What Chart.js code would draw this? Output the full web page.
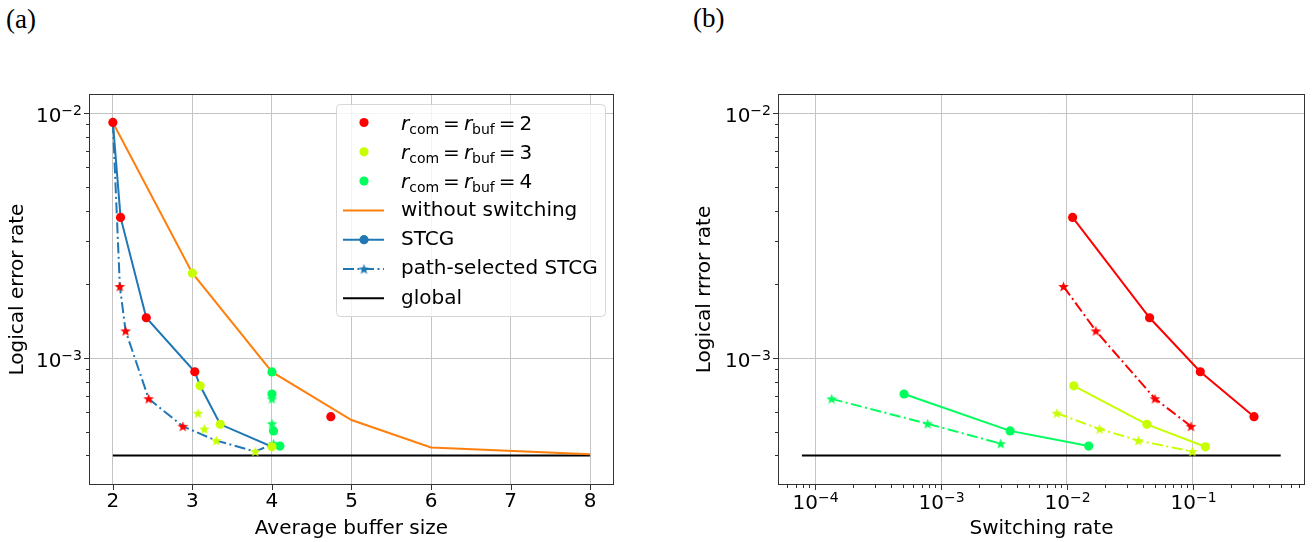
<!DOCTYPE html>
<html>
<head>
<meta charset="utf-8">
<script src="https://cdn.jsdelivr.net/npm/chart.js@4.4.1/dist/chart.umd.min.js"></script>
<style>
  body { margin: 0; background: #fff; width: 1315px; height: 542px; overflow: hidden; position: relative; }
  .panel { position: absolute; top: 0; height: 542px; }
  #wrapA { left: 0; width: 657px; }
  #wrapB { left: 657px; width: 658px; }
  .tag { position: absolute; font-family: "Liberation Serif", serif; font-size: 27px; line-height: 1; }
</style>
</head>
<body>
<div class="tag" style="left:6px; top:6px">(a)</div>
<div class="tag" style="left:693px; top:5px">(b)</div>
<div class="panel" id="wrapA"><canvas id="chartA"></canvas></div>
<div class="panel" id="wrapB"><canvas id="chartB"></canvas></div>
<script>
// ---- data ----
// (a) average buffer size vs logical error rate
var bufR2 = [2.0, 2.097, 2.42, 3.03, 4.74];
var errR2 = [9.16e-3, 3.75e-3, 1.46e-3, 8.79e-4, 5.76e-4];
var bufR3 = [3.0, 3.097, 3.35, 4.0];
var errR3 = [2.22e-3, 7.7e-4, 5.36e-4, 4.34e-4];
var bufR4 = [4.0, 4.0, 4.02, 4.10];
var errR4 = [8.77e-4, 7.13e-4, 5.04e-4, 4.37e-4];

var bufR2Path = [2.088, 2.16, 2.45, 2.88];
var errR2Path = [1.96e-3, 1.29e-3, 6.82e-4, 5.26e-4];
var bufR3Path = [3.07, 3.15, 3.30, 3.79];
var errR3Path = [5.95e-4, 5.13e-4, 4.60e-4, 4.15e-4];
var bufR4Path = [4.0, 4.0, 4.02];
var errR4Path = [6.81e-4, 5.39e-4, 4.47e-4];

var bufNoSwitch = [2, 3, 4, 5, 6, 8];
var errNoSwitch = [9.16e-3, 2.22e-3, 8.77e-4, 5.58e-4, 4.31e-4, 4.05e-4];
var bufStcg = [2.0, 2.097, 2.42, 3.03, 3.097, 3.35, 4.0, 4.10];
var errStcg = [9.16e-3, 3.75e-3, 1.46e-3, 8.79e-4, 7.7e-4, 5.36e-4, 4.34e-4, 4.37e-4];
var bufPathStcg = [2.0, 2.088, 2.16, 2.45, 2.88, 3.30, 3.79, 4.02];
var errPathStcg = [9.16e-3, 1.96e-3, 1.29e-3, 6.82e-4, 5.26e-4, 4.60e-4, 4.15e-4, 4.47e-4];
var bufGlobal = [2, 8];
var errGlobal = [4.0e-4, 4.0e-4];

// (b) switching rate vs logical error rate
var swR2 = [0.0111, 0.0454, 0.1148, 0.307];
var swErrR2 = [3.75e-3, 1.46e-3, 8.79e-4, 5.76e-4];
var swR2Path = [0.0094, 0.0170, 0.0501, 0.0969];
var swErrR2Path = [1.96e-3, 1.29e-3, 6.82e-4, 5.26e-4];
var swR3 = [0.01135, 0.0432, 0.126];
var swErrR3 = [7.7e-4, 5.36e-4, 4.34e-4];
var swR3Path = [0.00832, 0.0182, 0.0369, 0.0993];
var swErrR3Path = [5.95e-4, 5.13e-4, 4.60e-4, 4.15e-4];
var swR4 = [5.08e-4, 3.54e-3, 0.0149];
var swErrR4 = [7.13e-4, 5.04e-4, 4.37e-4];
var swR4Path = [1.35e-4, 7.82e-4, 2.98e-3];
var swErrR4Path = [6.81e-4, 5.39e-4, 4.47e-4];
var swGlobal = [7.84e-5, 0.5];
var swErrGlobal = [4.0e-4, 4.0e-4];

var bufferTicks = [2, 3, 4, 5, 6, 7, 8];
var rLevels = [2, 3, 4];
var legendLabels = ['without switching', 'STCG', 'path-selected STCG', 'global'];

// ---- styling ----
var FONT = '"DejaVu Sans", sans-serif';
var FS = 20;
var RED = '#ff0000', YEL = '#c8ff00', GRN = '#00ff5c';
var BLUE = '#1f77b4', ORANGE = '#ff7f0e';
var GRID = '#c4c4c4';
var DASHDOT = [11, 3.5, 2, 3.5];

function pts(xs, ys) {
  return xs.map(function (x, i) { return { x: x, y: ys[i] }; });
}

function starImage(color) {
  var R = 5.6, r = R * 0.42, size = 13;
  var c = document.createElement('canvas');
  c.width = size; c.height = size;
  var g = c.getContext('2d');
  g.translate(size / 2, size / 2 + 0.5);
  g.beginPath();
  for (var i = 0; i < 10; i++) {
    var rad = i % 2 ? r : R;
    var a = -Math.PI / 2 + i * Math.PI / 5;
    g.lineTo(rad * Math.cos(a), rad * Math.sin(a));
  }
  g.closePath();
  g.fillStyle = color;
  g.fill();
  return c;
}
var starRed = starImage(RED), starYel = starImage(YEL), starGrn = starImage(GRN), starBlue = starImage(BLUE);

function logTicks(lo, hi) {
  var out = [];
  for (var e = Math.floor(Math.log10(lo)); e <= Math.ceil(Math.log10(hi)); e++) {
    for (var k = 1; k <= 9; k++) {
      var v = k * Math.pow(10, e);
      if (v >= lo && v <= hi) out.push({ value: v, major: k === 1 });
    }
  }
  return out;
}

function gridColor(ctx) {
  return ctx.tick && ctx.tick.major ? GRID : 'rgba(0,0,0,0)';
}

// "10" with a raised exponent, like matplotlib's mathtext tick labels
function drawPow(ctx, v, x, yMid, align) {
  var e = Math.round(Math.log10(v));
  var base = '10', ex = (e < 0 ? '\u2212' : '') + Math.abs(e);
  ctx.font = FS + 'px ' + FONT;
  var w1 = ctx.measureText(base).width;
  ctx.font = '14px ' + FONT;
  var w2 = ctx.measureText(ex).width;
  var left = align === 'right' ? x - w1 - w2 : x - (w1 + w2) / 2;
  var baseline = yMid + 7.3;
  ctx.textBaseline = 'alphabetic';
  ctx.textAlign = 'left';
  ctx.fillStyle = '#000';
  ctx.font = FS + 'px ' + FONT;
  ctx.fillText(base, left, baseline);
  ctx.font = '14px ' + FONT;
  ctx.fillText(ex, left + w1, baseline - 7);
}

// spines, outward tick marks and log tick labels
var frame = {
  id: 'frame',
  afterDatasetsDraw: function (chart) {
    var a = chart.chartArea, ctx = chart.ctx;
    ctx.save();
    ctx.strokeStyle = '#333';
    ctx.lineWidth = 1;
    ctx.strokeRect(Math.round(a.left) + 0.5, Math.round(a.top) + 0.5,
      Math.round(a.right - a.left) - 1, Math.round(a.bottom - a.top) - 1);
    ['x', 'y'].forEach(function (id) {
      var s = chart.scales[id];
      s.ticks.forEach(function (t) {
        var len = t.major ? 5 : 3;
        var p = Math.round(s.getPixelForValue(t.value)) + 0.5;
        ctx.beginPath();
        if (id === 'x') { ctx.moveTo(p, a.bottom); ctx.lineTo(p, a.bottom + len); }
        else { ctx.moveTo(a.left, p); ctx.lineTo(a.left - len, p); }
        ctx.stroke();
        if (s.type === 'logarithmic' && t.major) {
          if (id === 'x') drawPow(ctx, t.value, p, a.bottom + 17, 'center');
          else drawPow(ctx, t.value, a.left - 7, p + 1, 'right');
        }
      });
    });
    ctx.restore();
  }
};

function drawRLabel(ctx, x, y, n) {
  var big = FS + 'px ' + FONT, it = 'italic ' + FS + 'px ' + FONT, small = '14px ' + FONT;
  var parts = [['r', it, 0, 0], ['com', small, 4, 4], ['=', big, 0, 4], ['r', it, 0, 0], ['buf', small, 4, 4], ['=', big, 0, 4], [String(n), big, 0, 0]];
  ctx.textBaseline = 'alphabetic';
  ctx.textAlign = 'left';
  var base = y + 7;
  parts.forEach(function (p) {
    ctx.font = p[1];
    ctx.fillText(p[0], x, base + p[2]);
    x += ctx.measureText(p[0]).width + p[3];
  });
}

var legendBox = {
  id: 'legendBox',
  afterDraw: function (chart) {
    var ctx = chart.ctx;
    var x0 = 336, y0 = 104, w = 269, h = 212;
    ctx.save();
    ctx.beginPath();
    ctx.roundRect(x0 + 0.5, y0 + 0.5, w, h, 4);
    ctx.fillStyle = 'rgba(255,255,255,0.8)';
    ctx.fill();
    ctx.strokeStyle = '#d6d6d6';
    ctx.lineWidth = 1;
    ctx.stroke();
    var rowY = function (i) { return 122.5 + i * 29.3; };
    var cols = [RED, YEL, GRN];
    rLevels.forEach(function (n, i) {
      ctx.beginPath();
      ctx.arc(364, rowY(i), 4.6, 0, Math.PI * 2);
      ctx.fillStyle = cols[i];
      ctx.fill();
      ctx.fillStyle = '#000';
      drawRLabel(ctx, 401, rowY(i), n);
    });
    var lineStyles = [[ORANGE, []], [BLUE, []], [BLUE, DASHDOT], ['#000', []]];
    legendLabels.forEach(function (lab, j) {
      var y = rowY(j + 3);
      ctx.beginPath();
      ctx.setLineDash(lineStyles[j][1]);
      ctx.strokeStyle = lineStyles[j][0];
      ctx.lineWidth = 2;
      ctx.moveTo(343, y); ctx.lineTo(384, y);
      ctx.stroke();
      ctx.setLineDash([]);
      if (j === 1) {
        ctx.beginPath(); ctx.arc(364, y, 4.6, 0, Math.PI * 2);
        ctx.fillStyle = BLUE; ctx.fill();
      }
      if (j === 2) ctx.drawImage(starBlue, 364 - 6.5, y - 6.5);
      ctx.fillStyle = '#000';
      ctx.font = FS + 'px ' + FONT;
      ctx.textBaseline = 'middle';
      ctx.fillText(lab, 401, y);
    });
    ctx.restore();
  }
};

function dots(data, color) {
  return { data: data, showLine: false, pointRadius: 4.6, pointBackgroundColor: color, pointBorderWidth: 0 };
}
function stars(data, img) {
  return { data: data, showLine: false, pointStyle: img, pointRadius: 5 };
}
function line(data, color, dash, extra) {
  var d = { data: data, showLine: true, borderColor: color, borderWidth: 2, borderDash: dash || [], pointRadius: 0, tension: 0 };
  for (var k in extra || {}) d[k] = extra[k];
  return d;
}

function baseScales(opt) {
  var tickFont = { family: FONT, size: FS };
  return {
    x: {
      type: opt.xType, min: opt.xMin, max: opt.xMax, bounds: 'data',
      afterBuildTicks: opt.xTicks,
      afterFit: function (s) { s.height = 57; },
      grid: { drawTicks: false, color: gridColor, lineWidth: 1 },
      border: { display: false },
      ticks: { padding: 5, autoSkip: false, maxRotation: 0, color: '#000', font: tickFont, callback: opt.xLabel },
      title: { display: true, text: opt.xTitle, color: '#000', font: tickFont, padding: { top: 0, bottom: 1 } }
    },
    y: {
      type: 'logarithmic', min: 3.03e-4, max: 1.197e-2, bounds: 'data',
      afterBuildTicks: function (s) { s.ticks = logTicks(3.03e-4, 1.197e-2); },
      afterFit: function (s) { s.width = opt.yWidth; },
      grid: { drawTicks: false, color: gridColor, lineWidth: 1 },
      border: { display: false },
      ticks: { padding: 7, autoSkip: false, color: '#000', font: tickFont, callback: function () { return ''; } },
      title: { display: true, text: opt.yTitle, color: '#000', font: tickFont, padding: { top: opt.yTitlePad, bottom: 0 } }
    }
  };
}

var common = {
  responsive: true, maintainAspectRatio: false, animation: false, devicePixelRatio: 1, events: [],
  plugins: { legend: { display: false }, tooltip: { enabled: false } }
};

new Chart(document.getElementById('chartA'), {
  type: 'scatter',
  data: {
    datasets: [
      dots(pts(bufR2, errR2), RED),
      dots(pts(bufR3, errR3), YEL),
      dots(pts(bufR4, errR4), GRN),
      stars(pts(bufR2Path, errR2Path), starRed),
      stars(pts(bufR3Path, errR3Path), starYel),
      stars(pts(bufR4Path, errR4Path), starGrn),
      line(pts(bufStcg, errStcg), BLUE),
      line(pts(bufPathStcg, errPathStcg), BLUE, DASHDOT),
      line(pts(bufNoSwitch, errNoSwitch), ORANGE),
      line(pts(bufGlobal, errGlobal), '#000')
    ]
  },
  options: Object.assign({}, common, {
    layout: { padding: { top: 94, right: 43, left: 0, bottom: 0 } },
    scales: baseScales({
      xType: 'linear', xMin: 1.7, xMax: 8.3,
      xTicks: function (s) { s.ticks = bufferTicks.map(function (v) { return { value: v, major: true }; }); },
      xLabel: function (v) { return String(v); },
      xTitle: 'Average buffer size',
      yTitle: 'Logical error rate', yWidth: 89, yTitlePad: 6
    })
  }),
  plugins: [frame, legendBox]
});

new Chart(document.getElementById('chartB'), {
  type: 'scatter',
  data: {
    datasets: [
      line(pts(swR2, swErrR2), RED, [], { pointRadius: 4.6, pointBackgroundColor: RED, pointBorderWidth: 0 }),
      line(pts(swR2Path, swErrR2Path), RED, DASHDOT, { pointStyle: starRed, pointRadius: 5 }),
      line(pts(swR3, swErrR3), YEL, [], { pointRadius: 4.6, pointBackgroundColor: YEL, pointBorderWidth: 0 }),
      line(pts(swR3Path, swErrR3Path), YEL, DASHDOT, { pointStyle: starYel, pointRadius: 5 }),
      line(pts(swR4, swErrR4), GRN, [], { pointRadius: 4.6, pointBackgroundColor: GRN, pointBorderWidth: 0 }),
      line(pts(swR4Path, swErrR4Path), GRN, DASHDOT, { pointStyle: starGrn, pointRadius: 5 }),
      line(pts(swGlobal, swErrGlobal), '#000')
    ]
  },
  options: Object.assign({}, common, {
    layout: { padding: { top: 94, right: 10, left: 0, bottom: 0 } },
    scales: baseScales({
      xType: 'logarithmic', xMin: 5.06e-5, xMax: 0.78,
      xTicks: function (s) { s.ticks = logTicks(5.06e-5, 0.78); },
      xLabel: function () { return ''; },
      xTitle: 'Switching rate',
      yTitle: 'Logical rrror rate', yWidth: 121, yTitlePad: 36
    })
  }),
  plugins: [frame]
});
</script>
</body>
</html>
